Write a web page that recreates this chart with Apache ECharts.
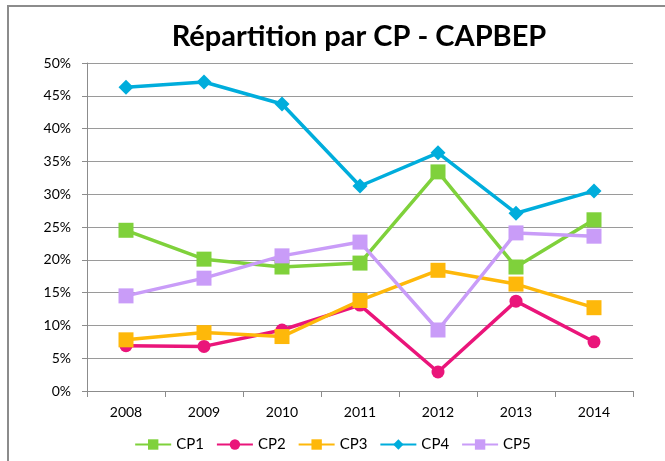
<!DOCTYPE html>
<html>
<head>
<meta charset="utf-8">
<script src="https://cdn.jsdelivr.net/npm/echarts@6/dist/echarts.min.js"></script>
<style>
  html, body { margin: 0; padding: 0; background: #ffffff; }
  #chart { width: 665px; height: 461px; }
</style>
</head>
<body>
<div id="chart"></div>
<script>
// Years on the horizontal axis
const years = ['2008', '2009', '2010', '2011', '2012', '2013', '2014'];

// Share per CP (percent)
const cp1 = [24.5, 20.1, 18.9, 19.5, 33.4, 18.9, 26.1];
const cp2 = [6.9, 6.8, 9.3, 13.1, 2.9, 13.7, 7.5];
const cp3 = [7.8, 8.9, 8.3, 13.8, 18.4, 16.3, 12.7];
const cp4 = [46.3, 47.1, 43.75, 31.25, 36.3, 27.1, 30.5];
const cp5 = [14.5, 17.2, 20.6, 22.7, 9.3, 24.1, 23.6];

const seriesNames = ['CP1', 'CP2', 'CP3', 'CP4', 'CP5'];
const seriesData = [cp1, cp2, cp3, cp4, cp5];
const seriesColors = ['#7fd13b', '#ea157a', '#feb80a', '#00addc', '#c99cf8'];
const seriesSymbols = ['rect', 'circle', 'rect', 'diamond', 'rect'];
const symbolSizes = [15, 13, 15, 15, 15];

const font = 'Lato, "Open Sans", sans-serif';

const chart = echarts.init(document.getElementById('chart'), null, { renderer: 'canvas' });

chart.setOption({
  animation: false,
  backgroundColor: '#ffffff',
  title: {
    text: 'Répartition par CP - CAPBEP',
    left: 354,
    top: 17,
    textAlign: 'center',
    textStyle: { fontFamily: font, fontSize: 29, fontWeight: 'bold', color: '#000000' }
  },
  legend: {
    data: seriesNames,
    bottom: 4,
    left: 'center',
    itemWidth: 36,
    itemHeight: 13,
    itemGap: 12,
    textStyle: { fontFamily: font, fontSize: 15, color: '#000000' }
  },
  graphic: [{
    type: 'polyline',
    shape: { points: [[8, 461], [8, 6], [665, 6]] },
    style: { stroke: '#8c8c8c', lineWidth: 2, fill: null },
    silent: true
  }],
  grid: { left: 87, right: 32, top: 63, bottom: 70 },
  xAxis: {
    type: 'category',
    data: years,
    boundaryGap: true,
    axisLine: { lineStyle: { color: '#8c8c8c', width: 1 } },
    axisTick: { show: true, length: 6, lineStyle: { color: '#8c8c8c' } },
    axisLabel: { fontFamily: font, fontSize: 14, color: '#000000', margin: 14 }
  },
  yAxis: {
    type: 'value',
    min: 0,
    max: 50,
    interval: 5,
    axisLine: { show: true, lineStyle: { color: '#8c8c8c', width: 1 } },
    axisTick: { show: true, length: 5, lineStyle: { color: '#8c8c8c' } },
    axisLabel: { fontFamily: font, fontSize: 14, color: '#000000', margin: 16, formatter: '{value}%' },
    splitLine: { show: true, lineStyle: { color: '#9a9a9a', width: 1 } }
  },
  series: seriesNames.map((name, i) => ({
    name: name,
    type: 'line',
    data: seriesData[i],
    symbol: seriesSymbols[i],
    symbolSize: symbolSizes[i],
    showAllSymbol: true,
    lineStyle: { color: seriesColors[i], width: 3.5 },
    itemStyle: { color: seriesColors[i], borderWidth: 0 },
    emphasis: { disabled: true }
  }))
});
</script>
</body>
</html>
